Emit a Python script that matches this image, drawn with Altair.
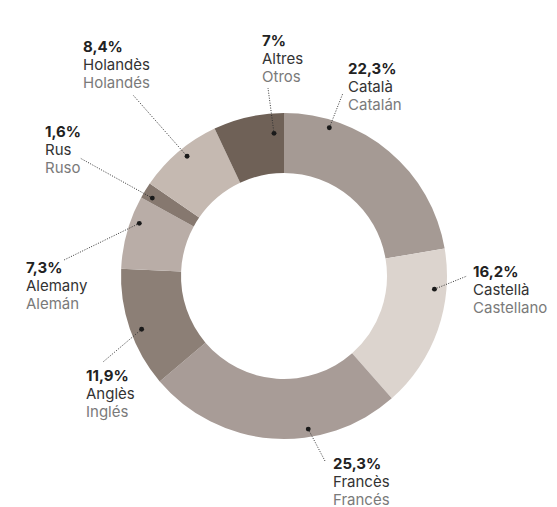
import math
import altair as alt
import pandas as pd

# ---- data ----
cat_names = ["Català", "Castellà", "Francès", "Anglès", "Alemany", "Rus", "Holandès", "Altres"]
es_names = ["Catalán", "Castellano", "Francés", "Inglés", "Alemán", "Ruso", "Holandés", "Otros"]
shares = [22.3, 16.2, 25.3, 11.9, 7.3, 1.6, 8.4, 7.0]
pct_labels = ["22,3%", "16,2%", "25,3%", "11,9%", "7,3%", "1,6%", "8,4%", "7%"]
colors = ["#a59a94", "#dcd4ce", "#a89c97", "#8c7f76", "#b9ada7", "#86786f", "#c5b9b1", "#6f6157"]

# ---- annotation layout (page pixels) ----
OFF = 8
W, H = 541, 499
CX, CY = 284 - OFF, 276 - OFF
dot_angle = [17, 95, 171, 249.5, 290, 300.6, 321, 356]
dot_r = [155, 151, 155, 152, 154, 153, 154, 143]
label_x = [348, 473, 333, 86, 26, 45, 83, 262]
label_y = [69, 272, 464, 376, 268, 132, 47, 41]
line_end = [(343, 93), (467, 276), (325, 461), (103, 362), (64, 260), (80, 158), (133, 95), (268, 88)]

df = pd.DataFrame({
    "cat": cat_names,
    "es": es_names,
    "share": shares,
    "pct": pct_labels,
    "order": list(range(len(cat_names))),
})
df["dx"] = [CX + r * math.sin(math.radians(a)) for a, r in zip(dot_angle, dot_r)]
df["dy"] = [CY - r * math.cos(math.radians(a)) for a, r in zip(dot_angle, dot_r)]
df["lx"] = [p[0] - OFF for p in line_end]
df["ly"] = [p[1] - OFF for p in line_end]
df["tx"] = [x - OFF for x in label_x]
df["ty1"] = [y - OFF + 5 for y in label_y]
df["ty2"] = [y - OFF + 5 + 18 for y in label_y]
df["ty3"] = [y - OFF + 5 + 36 for y in label_y]

xs = alt.Scale(domain=[0, W], range=[0, W])
ys = alt.Scale(domain=[0, H], range=[0, H])
FONT = "Inter"
FS = 15

base = alt.Chart(df)

arcs = base.mark_arc(innerRadius=103, outerRadius=163).encode(
    theta=alt.Theta("share:Q", stack=True),
    order=alt.Order("order:Q"),
    color=alt.Color("cat:N", scale=alt.Scale(domain=cat_names, range=colors), legend=None),
    x=alt.value(CX),
    y=alt.value(CY),
)

leaders = base.mark_rule(color="#333333", strokeWidth=1, strokeDash=[1, 1.5]).encode(
    x=alt.X("dx:Q", scale=xs, axis=None),
    y=alt.Y("dy:Q", scale=ys, axis=None),
    x2="lx:Q",
    y2="ly:Q",
)

dots = base.mark_circle(size=24, color="#1a1a1a", opacity=1).encode(
    x=alt.X("dx:Q", scale=xs, axis=None),
    y=alt.Y("dy:Q", scale=ys, axis=None),
)

t1 = base.mark_text(align="left", baseline="alphabetic", font=FONT, fontSize=FS,
                    fontWeight="bold", color="#222222").encode(
    x=alt.X("tx:Q", scale=xs, axis=None),
    y=alt.Y("ty1:Q", scale=ys, axis=None),
    text="pct:N",
)
t2 = base.mark_text(align="left", baseline="alphabetic", font=FONT, fontSize=FS,
                    color="#333333").encode(
    x=alt.X("tx:Q", scale=xs, axis=None),
    y=alt.Y("ty2:Q", scale=ys, axis=None),
    text="cat:N",
)
t3 = base.mark_text(align="left", baseline="alphabetic", font=FONT, fontSize=FS,
                    color="#7a7a7a").encode(
    x=alt.X("tx:Q", scale=xs, axis=None),
    y=alt.Y("ty3:Q", scale=ys, axis=None),
    text="es:N",
)

chart = alt.layer(arcs, leaders, dots, t1, t2, t3).properties(
    width=W, height=H, padding=0, background="white",
    autosize=alt.AutoSizeParams(type="none"),
).configure_view(stroke="transparent", strokeWidth=0)

chart.save("out.html", embed_options={"renderer": "svg", "actions": False})
